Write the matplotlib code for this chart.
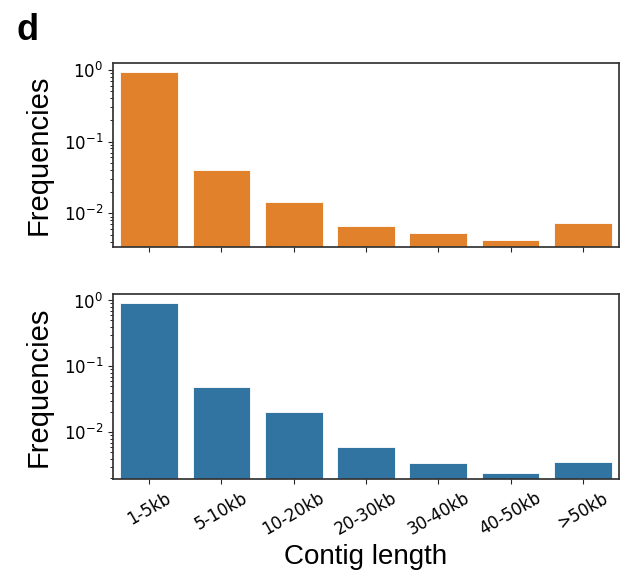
import numpy as np
import matplotlib
matplotlib.use('Agg')
import matplotlib.pyplot as plt

# contig length bins and frequencies
categories = ['1-5kb', '5-10kb', '10-20kb', '20-30kb', '30-40kb', '40-50kb', '>50kb']
freq_top = [0.93, 0.040, 0.0146, 0.0066, 0.0053, 0.00425, 0.0073]
freq_bottom = [0.90, 0.0495, 0.020, 0.0059, 0.0034, 0.0024, 0.0036]

color_top = '#e1812c'
color_bottom = '#3274a1'
label_font = 'Liberation Sans'


def style_axis(ax, ylim):
    ax.set_yscale('log')
    ax.set_ylim(ylim)
    ax.set_xlim(-0.5, len(categories) - 0.5)
    ax.set_xticks(np.arange(len(categories)))
    ax.set_ylabel('Frequencies', fontsize=21, family=label_font)
    ax.yaxis.set_label_coords(-0.12, 0.5)
    ax.tick_params(axis='both', labelsize=12, color='0.15')
    for s in ax.spines.values():
        s.set_linewidth(1.25)
        s.set_color('0.2')


fig = plt.figure(figsize=(6.2, 5.8), dpi=100)
W, H = 620., 580.
ax1 = fig.add_axes([113 / W, 1 - 247 / H, 506 / W, 184 / H])
ax2 = fig.add_axes([113 / W, 1 - 479.3 / H, 506 / W, 185 / H])

x = np.arange(len(categories))
ax1.bar(x, freq_top, width=0.8, color=color_top, edgecolor='white', linewidth=0.6)
ax2.bar(x, freq_bottom, width=0.8, color=color_bottom, edgecolor='white', linewidth=0.6)

style_axis(ax1, (0.0034, 1.24))
style_axis(ax2, (0.00194, 1.24))
ax1.set_xticklabels([])
ax2.set_xticklabels(categories, rotation=30)
ax2.set_xlabel('Contig length', fontsize=20, family=label_font)

fig.text(16 / W, 1 - 40 / H, 'd', fontsize=26, fontweight='bold', family=label_font)

fig.savefig('out.png', dpi=100)
